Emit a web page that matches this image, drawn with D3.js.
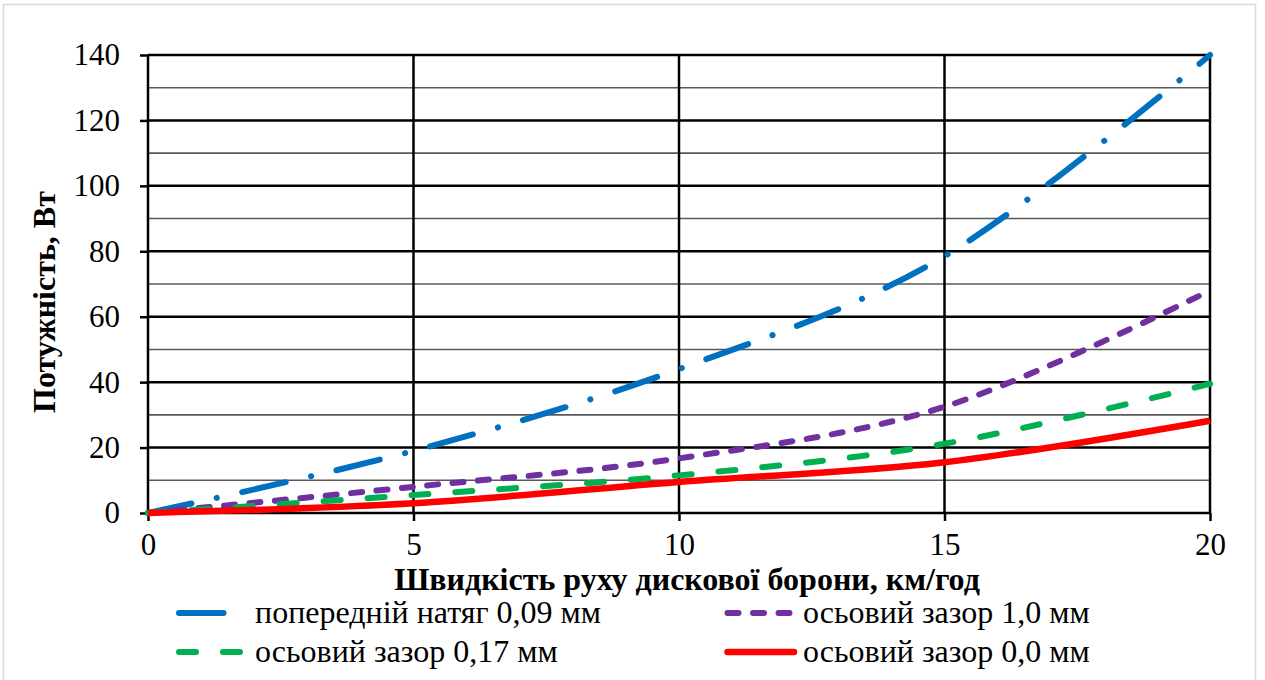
<!DOCTYPE html>
<html>
<head>
<meta charset="utf-8">
<script src="https://cdn.jsdelivr.net/npm/d3@7"></script>
<style>
  html, body { margin: 0; padding: 0; background: #fff; }
  svg { display: block; }
  text { font-family: "Liberation Serif", "Times New Roman", serif; fill: #000; }
</style>
</head>
<body>
<svg id="chart" width="1265" height="680"></svg>
<script>
// Speed of the disc harrow, km/h
const speedKmh = [0, 5, 10, 15, 20];

// Power loss, W, for each bearing setting
const preload009 = [0, 19, 44, 78.5, 140];      // попередній натяг 0,09 мм
const axialGap10 = [0, 8, 16.7, 32.5, 68];      // осьовий зазор 1,0 мм
const axialGap017 = [0, 5.5, 11.5, 21.2, 39.5]; // осьовий зазор 0,17 мм
const axialGap00 = [0, 3, 9.5, 15.5, 28.2];     // осьовий зазор 0,0 мм

const seriesNames = [
  "попередній натяг 0,09 мм",
  "осьовий зазор 1,0 мм",
  "осьовий зазор 0,17 мм",
  "осьовий зазор 0,0 мм"
];

const xTickValues = [0, 5, 10, 15, 20];
const yTickValues = [0, 20, 40, 60, 80, 100, 120, 140];
const yMinorValues = [10, 30, 50, 70, 90, 110, 130];

const xTitle = "Швидкість руху дискової борони, км/год";
const yTitle = "Потужність, Вт";

// ---- layout and styling ----
const plot = { left: 148, right: 1210, top: 55, bottom: 513 };

const styles = [
  { color: "#0070C0", width: 6,   dash: "44.5 26 0.1 26", legendDash: "44.5 40", cap: "round" },
  { color: "#7030A0", width: 6,   dash: "11 14.5",        legendDash: "11 14.5", cap: "round" },
  { color: "#00B050", width: 6,   dash: "17 27",          legendDash: "17 27",   cap: "round" },
  { color: "#FF0000", width: 6.5, dash: null,             legendDash: null,      cap: "butt" }
];

const seriesValues = [preload009, axialGap10, axialGap017, axialGap00];

const svg = d3.select("#chart");

// outer chart frame
svg.append("rect")
  .attr("x", 3.5).attr("y", 4.5)
  .attr("width", 1252).attr("height", 690)
  .attr("fill", "#fff")
  .attr("stroke", "#d9d9d9")
  .attr("stroke-width", 1.5);

const x = d3.scaleLinear().domain([0, 20]).range([plot.left, plot.right]);
const y = d3.scaleLinear().domain([0, 140]).range([plot.bottom, plot.top]);

// minor horizontal gridlines
svg.append("g")
  .selectAll("line")
  .data(yMinorValues)
  .join("line")
  .attr("x1", plot.left).attr("x2", plot.right)
  .attr("y1", d => y(d)).attr("y2", d => y(d))
  .attr("stroke", "#595959")
  .attr("stroke-width", 1.6);

// major horizontal gridlines
svg.append("g")
  .selectAll("line")
  .data(yTickValues.filter(d => d > 0))
  .join("line")
  .attr("x1", plot.left).attr("x2", plot.right)
  .attr("y1", d => y(d)).attr("y2", d => y(d))
  .attr("stroke", "#000")
  .attr("stroke-width", 2.5);

// vertical gridlines
svg.append("g")
  .selectAll("line")
  .data(xTickValues.filter(d => d > 0))
  .join("line")
  .attr("x1", d => x(d)).attr("x2", d => x(d))
  .attr("y1", plot.top).attr("y2", plot.bottom)
  .attr("stroke", "#000")
  .attr("stroke-width", 2.5);

// axes
const yAxis = d3.axisLeft(y).tickValues(yTickValues).tickSize(8).tickPadding(20).tickFormat(d3.format("d"));
const xAxis = d3.axisBottom(x).tickValues(xTickValues).tickSize(8).tickPadding(12).tickFormat(d3.format("d"));

const gy = svg.append("g").attr("transform", `translate(${plot.left},0)`).call(yAxis);
const gx = svg.append("g").attr("transform", `translate(0,${plot.bottom})`).call(xAxis);

[gx, gy].forEach(g => {
  g.select(".domain").attr("stroke", "#000").attr("stroke-width", 2.5);
  g.selectAll(".tick line").attr("stroke", "#000").attr("stroke-width", 2.5);
  g.selectAll(".tick text")
    .attr("font-family", "'Liberation Serif', 'Times New Roman', serif")
    .attr("font-size", 31)
    .attr("fill", "#000");
});
gy.select(".domain").attr("d", `M0,${plot.bottom}V${plot.top}`);
gx.select(".domain").attr("d", `M${plot.left},0H${plot.right}`);

// series lines
const line = d3.line()
  .x((d, i) => x(speedKmh[i]))
  .y(d => y(d))
  .curve(d3.curveCardinal.tension(0));

seriesValues.forEach((vals, k) => {
  const s = styles[k];
  svg.append("path")
    .datum(vals)
    .attr("d", line)
    .attr("fill", "none")
    .attr("stroke", s.color)
    .attr("stroke-width", s.width)
    .attr("stroke-linecap", s.cap)
    .attr("stroke-linejoin", "round")
    .attr("stroke-dasharray", s.dash);
});

// axis titles
svg.append("text")
  .attr("x", 687).attr("y", 590)
  .attr("text-anchor", "middle")
  .attr("font-size", 32)
  .attr("font-weight", "bold")
  .text(xTitle);

svg.append("text")
  .attr("transform", "translate(55,302) rotate(-90)")
  .attr("text-anchor", "middle")
  .attr("font-size", 32)
  .attr("font-weight", "bold")
  .text(yTitle);

// legend: two columns, two rows
const legendSlots = [
  { x1: 179, x2: 243, y: 613, tx: 255 },
  { x1: 727.5, x2: 793, y: 613, tx: 803 },
  { x1: 179, x2: 243, y: 652, tx: 255 },
  { x1: 727.5, x2: 794, y: 652, tx: 803 }
];

seriesNames.forEach((name, k) => {
  const s = styles[k];
  const p = legendSlots[k];
  svg.append("line")
    .attr("x1", p.x1).attr("x2", p.x2)
    .attr("y1", p.y).attr("y2", p.y)
    .attr("stroke", s.color)
    .attr("stroke-width", s.width)
    .attr("stroke-linecap", "round")
    .attr("stroke-dasharray", s.legendDash);
  svg.append("text")
    .attr("x", p.tx).attr("y", p.y + 10)
    .attr("font-size", 32)
    .text(name);
});
</script>
</body>
</html>
